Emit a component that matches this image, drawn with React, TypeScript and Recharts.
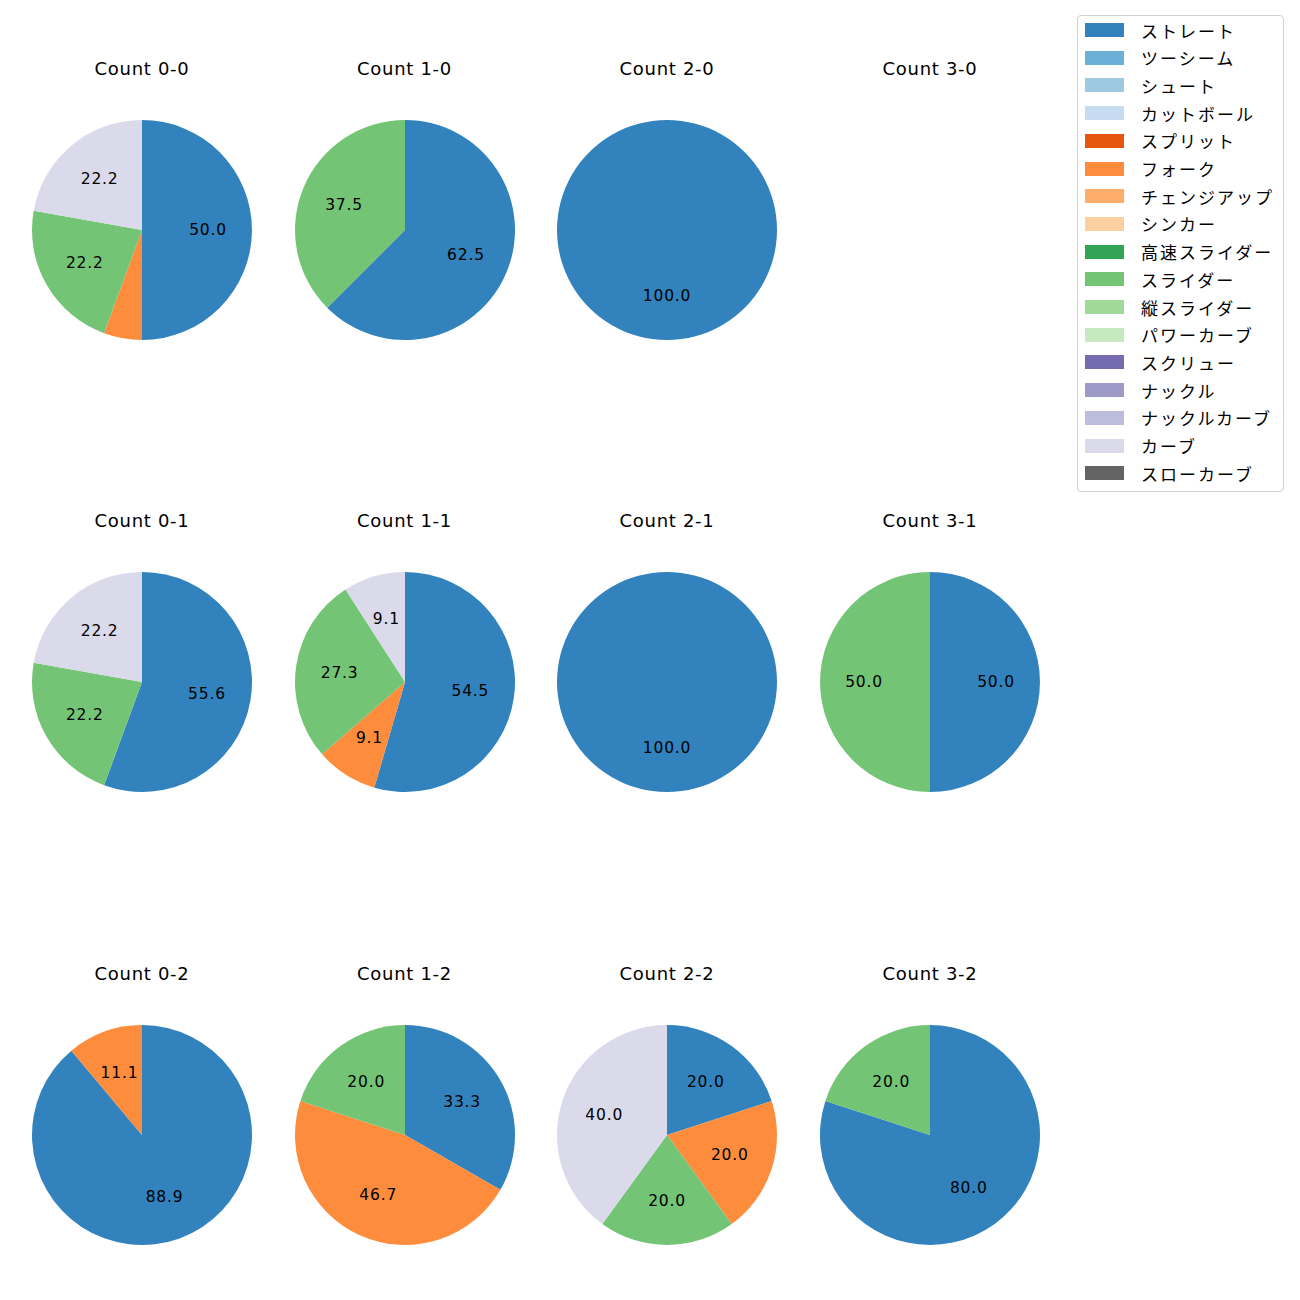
import React from 'react';
import { PieChart, Pie, Cell } from 'recharts';

const pitchTypes = [
  'ストレート', 'ツーシーム', 'シュート', 'カットボール', 'スプリット', 'フォーク',
  'チェンジアップ', 'シンカー', '高速スライダー', 'スライダー', '縦スライダー', 'パワーカーブ',
  'スクリュー', 'ナックル', 'ナックルカーブ', 'カーブ', 'スローカーブ',
];
const pitchColors = [
  '#3182bd', '#6baed6', '#9ecae1', '#c6dbef', '#e6550d', '#fd8d3c',
  '#fdae6b', '#fdd0a2', '#31a354', '#74c476', '#a1d99b', '#c7e9c0',
  '#756bb1', '#9e9ac8', '#bcbddc', '#dadaeb', '#636363',
];

// percentages per count (only ストレート, フォーク, スライダー, カーブ appear)
const countLabels = ['0-0', '1-0', '2-0', '3-0', '0-1', '1-1', '2-1', '3-1', '0-2', '1-2', '2-2', '3-2'];
const straight = [50.0, 62.5, 100.0, 0, 55.6, 54.5, 100.0, 50.0, 88.9, 33.3, 20.0, 80.0];
const fork = [5.6, 0, 0, 0, 0, 9.1, 0, 0, 11.1, 46.7, 20.0, 0];
const slider = [22.2, 37.5, 0, 0, 22.2, 27.3, 0, 50.0, 0, 20.0, 20.0, 20.0];
const curve = [22.2, 0, 0, 0, 22.2, 9.1, 0, 0, 0, 0, 40.0, 0];

const colX = [142, 404.5, 667, 930];
const rowY = [230, 682, 1135];
const R = 110;
const LATIN = '"DejaVu Sans", "Noto Sans CJK JP", sans-serif';
const CJK = '"Noto Sans CJK JP", "Noto Sans", sans-serif';
const RAD = Math.PI / 180;

function sliceData(i: number) {
  const rows = [
    { name: 'ストレート', value: straight[i] },
    { name: 'フォーク', value: fork[i] },
    { name: 'スライダー', value: slider[i] },
    { name: 'カーブ', value: curve[i] },
  ];
  return rows.filter(r => r.value > 0);
}

function pctLabel(p: any) {
  const { cx, cy, midAngle, outerRadius, value } = p;
  if (value < 6) return null;
  const r = outerRadius * 0.6;
  const x = cx + r * Math.cos(-midAngle * RAD);
  const y = cy + r * Math.sin(-midAngle * RAD);
  return (
    <text x={x} y={y} textAnchor="middle" dominantBaseline="central" fill="#000" fontSize={15.5} letterSpacing={0.8} fontFamily={LATIN}>
      {value.toFixed(1)}
    </text>
  );
}

function CountPie({ i }: { i: number }) {
  const cx = colX[i % 4];
  const cy = rowY[Math.floor(i / 4)];
  const data = sliceData(i);
  return (
    <>
      <div style={{ position: 'absolute', left: cx - 100, width: 200, top: cy - 173, height: 24, lineHeight: '24px', textAlign: 'center', fontSize: 18, letterSpacing: 0.7, fontFamily: LATIN, color: '#000' }}>
        Count {countLabels[i]}
      </div>
      {data.length > 0 && (
        <div style={{ position: 'absolute', left: cx - 120, top: cy - 120 }}>
          <PieChart width={240} height={240} margin={{ top: 0, right: 0, bottom: 0, left: 0 }}>
            <Pie
              data={data}
              dataKey="value"
              nameKey="name"
              cx="50%"
              cy="50%"
              outerRadius={R}
              startAngle={90}
              endAngle={-270}
              stroke="none"
              labelLine={false}
              label={pctLabel}
              isAnimationActive={false}
            >
              {data.map(d => (
                <Cell key={d.name} fill={pitchColors[pitchTypes.indexOf(d.name)]} />
              ))}
            </Pie>
          </PieChart>
        </div>
      )}
    </>
  );
}

export default function App() {
  return (
    <div style={{ position: 'absolute', left: 0, top: 0, width: 1300, height: 1300, background: '#fff' }}>
      {countLabels.map((c, i) => <CountPie key={c} i={i} />)}
      <div style={{ position: 'absolute', left: 1077, top: 15, width: 205, height: 475, border: '1px solid #d0d0d0', borderRadius: 4, background: '#fff', fontFamily: CJK }}>
        {pitchTypes.map((p, k) => (
          <div key={p} style={{ position: 'absolute', left: 7, top: 7 + k * 27.7, height: 14, display: 'flex', alignItems: 'center' }}>
            <div style={{ width: 39, height: 14, background: pitchColors[k] }} />
            <span style={{ marginLeft: 17, fontSize: 17, whiteSpace: 'nowrap', letterSpacing: 2, color: '#000' }}>{p}</span>
          </div>
        ))}
      </div>
    </div>
  );
}
